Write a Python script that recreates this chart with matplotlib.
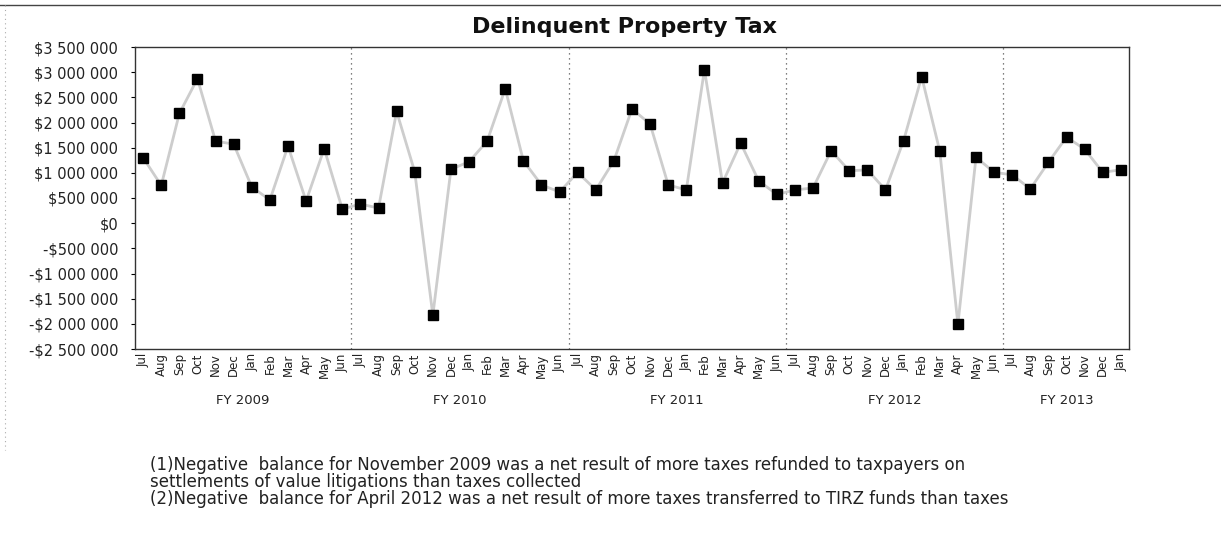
import matplotlib
matplotlib.use("Agg")
import matplotlib.pyplot as plt
from matplotlib.lines import Line2D

months = ["Jul", "Aug", "Sep", "Oct", "Nov", "Dec", "Jan", "Feb", "Mar", "Apr", "May", "Jun"]
fy_labels = ["FY 2009", "FY 2010", "FY 2011", "FY 2012", "FY 2013"]
fy_counts = [12, 12, 12, 12, 7]

fy2009 = [1300000, 750000, 2180000, 2870000, 1630000, 1570000, 720000, 460000, 1530000, 440000, 1480000, 280000]
fy2010 = [380000, 300000, 2220000, 1020000, -1830000, 1070000, 1220000, 1630000, 2670000, 1240000, 760000, 620000]
fy2011 = [1010000, 660000, 1240000, 2270000, 1970000, 760000, 660000, 3050000, 800000, 1590000, 840000, 570000]
fy2012 = [660000, 700000, 1440000, 1040000, 1060000, 660000, 1640000, 2910000, 1430000, -2010000, 1310000, 1010000]
fy2013 = [960000, 680000, 1210000, 1710000, 1470000, 1010000, 1060000]

yticks = list(range(-2500000, 3500001, 500000))

notes = [
    "(1)Negative  balance for November 2009 was a net result of more taxes refunded to taxpayers on",
    "settlements of value litigations than taxes collected",
    "(2)Negative  balance for April 2012 was a net result of more taxes transferred to TIRZ funds than taxes",
]

values = fy2009 + fy2010 + fy2011 + fy2012 + fy2013
labels = []
for c in fy_counts:
    labels += months[:c]
x = list(range(len(values)))

plt.rcParams['font.family'] = ['DejaVu Sans']

fig = plt.figure(figsize=(12.21, 5.33), dpi=100)
ax = fig.add_axes([135/1221, 1 - 349/533, (1129-135)/1221, (349-47)/533])

ax.plot(x, values, color="#cdcdcd", linewidth=2.0, zorder=2)
ax.plot(x, values, linestyle="none", marker="s", markersize=7.5, color="black", zorder=3)

ax.set_xlim(-0.45, len(values) - 0.55)
ax.set_ylim(-2500000, 3500000)

def fmt(v):
    s = "{:,}".format(abs(v)).replace(",", " ")
    return ("-$" if v < 0 else "$") + s

ax.set_yticks(yticks)
ax.set_yticklabels([fmt(v) for v in yticks], fontsize=10.5, color="#222222")
ax.set_xticks(x)
ax.set_xticklabels(labels, rotation=90, fontsize=8.5, color="#222222")
ax.tick_params(axis="y", length=3, width=0.8, pad=9)
ax.tick_params(axis="x", length=0, pad=3)

for s in ax.spines.values():
    s.set_linewidth(1.0)
    s.set_color("#333333")

# fiscal year dividers and labels
start = 0
for i, (lab, c) in enumerate(zip(fy_labels, fy_counts)):
    if i > 0:
        ax.axvline(start - 0.5, color="#555555", linestyle=(0, (1, 3)), linewidth=0.9, zorder=1)
    center = start + (c - 1) / 2
    ax.text(center, -0.169, lab, transform=ax.get_xaxis_transform(), ha="center", va="center",
            fontsize=9.5, color="#222222")
    start += c

fig.text(625/1221, 1 - 27/533, "Delinquent Property Tax", ha="center", va="center",
         fontsize=16, fontweight="bold", color="#111111")

for k, line in enumerate(notes):
    fig.text(150/1221, 1 - (465 + 17*k)/533, line, ha="left", va="center", fontsize=12, color="#222222")

# page border lines
fig.add_artist(Line2D([0, 1], [1 - 5/533, 1 - 5/533], transform=fig.transFigure, color="#444444", linewidth=1.0))
fig.add_artist(Line2D([5/1221, 5/1221], [1 - 5/533, 1 - 450/533], transform=fig.transFigure, color="#aaaaaa",
                      linewidth=0.8, linestyle=(0, (1, 3))))

fig.savefig("out.png", dpi=100)
